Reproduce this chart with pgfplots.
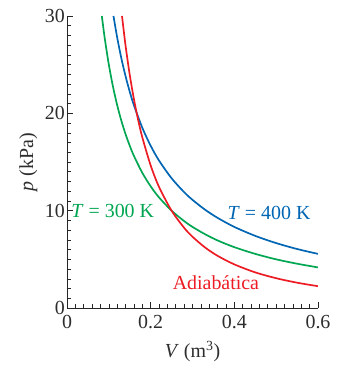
\documentclass[border=0pt]{standalone}
\usepackage{pgfplots}
\pgfplotsset{compat=1.18}
\usepackage{fontspec}
\setmainfont{Liberation Serif}
\definecolor{cgreen}{RGB}{0,166,81}
\definecolor{cblue}{RGB}{0,102,179}
\definecolor{cred}{RGB}{237,28,36}
\definecolor{ctext}{RGB}{45,45,45}
\begin{document}
\begin{tikzpicture}
\begin{axis}[
 scale only axis, width=251bp, height=292bp,
 xmin=0, xmax=0.6, ymin=0, ymax=30,
 axis lines=left, axis line style={-, line width=0.8pt, black!85},
 xtick={0,0.2,0.4,0.6}, ytick={0,10,20,30},
 xticklabels={0,0.2,0.4,0.6},
 minor x tick num=9, minor y tick num=9,
 tick align=inside, major tick length=6bp, minor tick length=4bp,
 tick style={black!85, line width=0.6pt},
 font=\fontsize{20}{24}\selectfont,
 every tick label/.append style={text=ctext},
 xticklabel style={inner sep=1bp, yshift=-6bp},
 yticklabel style={inner sep=1bp, xshift=-1bp},
 /pgf/number format/assume math mode=true,
 xlabel={\textit{V} (m\textsuperscript{3})},
 ylabel={\textit{p} (kPa)},
 label style={text=ctext},
 xlabel style={yshift=-8bp},
 ylabel style={yshift=3bp},
 clip=true,
]
\addplot[cgreen, line width=1.7pt, smooth] coordinates {
(0.0833,30) (0.09,27.78) (0.1,25) (0.11,22.73) (0.12,20.83) (0.13,19.23)
(0.14,17.86) (0.15,16.67) (0.16,15.625) (0.18,13.89) (0.2,12.5) (0.22,11.36)
(0.25,10) (0.28,8.93) (0.3,8.33) (0.33,7.58) (0.36,6.94) (0.4,6.25)
(0.45,5.56) (0.5,5) (0.55,4.55) (0.6,4.17)};
\addplot[cblue, line width=1.7pt, smooth] coordinates {
(0.1111,30) (0.12,27.78) (0.13,25.64) (0.14,23.81) (0.15,22.22) (0.16,20.83)
(0.18,18.52) (0.2,16.67) (0.22,15.15) (0.25,13.33) (0.28,11.90) (0.3,11.11)
(0.33,10.10) (0.36,9.26) (0.4,8.33) (0.45,7.41) (0.5,6.67) (0.55,6.06) (0.6,5.56)};
\addplot[cred, line width=1.7pt, smooth] coordinates {
(0.1315,30) (0.14,26.95) (0.15,23.95) (0.16,21.45) (0.17,19.34) (0.18,17.54)
(0.2,14.65) (0.22,12.44) (0.25,10) (0.28,8.24) (0.3,7.32) (0.33,6.22)
(0.36,5.36) (0.4,4.48) (0.45,3.66) (0.5,3.06) (0.55,2.60) (0.6,2.24)};
\node[cgreen, anchor=west, inner sep=0pt] at (axis cs:0.010,10.0) {\textit{T} = 300 K};
\node[cblue, inner sep=0pt] at (axis cs:0.483,9.76) {\textit{T} = 400 K};
\node[cred, inner sep=0pt] at (axis cs:0.356,2.57) {Adiabática};
\end{axis}
\path (current axis.south west) ++(-67bp,-58bp) rectangle ++(345bp,366bp);
\end{tikzpicture}
\end{document}
